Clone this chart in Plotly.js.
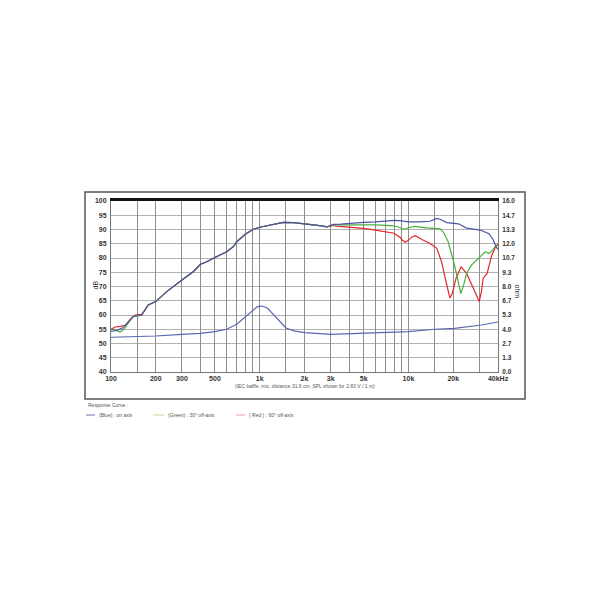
<!DOCTYPE html>
<html><head><meta charset="utf-8">
<script src="https://cdn.plot.ly/plotly-3.0.1.min.js"></script>
<style>html,body{margin:0;padding:0;background:#fff}#chart{width:610px;height:610px}</style>
</head><body><div id="chart"></div>
<script>
// ---- data ----
var freqBlue = [100,110,120,130,141,161,178,200,237,300,357,400,440,500,600,665,700,800,900,1000,1230,1440,1690,2000,2300,2616,2825,3120,3500,4000,5000,6000,7000,8000,8800,10000,11900,13900,15500,16300,18100,21700,24600,30400,34800,37000,39200,40000];
var splBlue  = [54.3,54.6,55.5,57.5,59.4,60.0,63.5,64.7,68.2,72.3,75.2,77.8,78.7,80.2,82.2,84.0,85.7,88.3,90.0,90.8,91.9,92.5,92.4,92.0,91.8,91.3,90.9,91.8,91.9,92.2,92.5,92.7,93.0,93.2,93.1,92.7,92.7,92.9,93.9,93.6,92.4,92.0,90.5,89.8,88.5,86.5,83.5,83.0];

var freqGreen = [100,105,110,115,122,130,141,161,178,200,237,300,357,400,440,500,600,665,700,800,900,1000,1230,1440,1690,2000,2300,2616,2825,3120,3500,4000,6000,8000,9000,9500,10000,11000,13200,16300,17200,18500,20400,21500,22500,23500,24600,26500,28900,30500,32900,34800,36500,38200,40000];
var splGreen  = [54.8,55.0,54.5,54.0,55.0,57.0,59.6,60.0,63.5,64.7,68.2,72.3,75.2,77.8,78.7,80.2,82.2,84.0,85.7,88.3,90.0,90.8,91.9,92.5,92.4,92.0,91.8,91.3,90.9,91.6,91.6,91.6,91.6,91.3,90.4,90.1,90.6,91.1,90.6,90.2,89.0,85.7,77.5,72.0,67.5,70.5,74.6,77.5,79.3,80.5,82.2,81.6,82.5,84.0,84.5];

var freqRed = [100,107,115,125,135,145,161,178,200,237,300,357,400,440,500,600,665,700,800,900,1000,1230,1440,1690,2000,2300,2616,2825,3120,3300,4000,5000,6000,7000,8000,8800,9000,9500,10000,10500,11100,12500,13900,15500,16700,18100,19000,19700,20900,22600,24600,27300,29900,31000,31800,33800,36100,38200,40000];
var splRed  = [55.0,55.8,56.0,56.4,58.5,60.0,60.2,63.5,64.7,68.2,72.3,75.2,77.8,78.7,80.2,82.2,84.0,85.7,88.3,90.0,90.8,91.9,92.5,92.4,92.0,91.8,91.3,90.9,91.4,91.2,90.9,90.4,89.8,89.3,88.7,87.2,86.5,85.5,86.2,87.3,87.8,86.3,85.2,83.4,78.7,70.5,66.0,67.5,72.9,76.9,74.6,69.4,64.7,68.5,72.9,74.6,80.5,83.5,85.0];

var freqImp = [100,200,300,400,500,600,700,800,900,960,1000,1050,1130,1270,1400,1500,1700,2000,3000,5000,10000,15000,20400,31000,40000];
var ohmImp  = [3.25,3.37,3.52,3.62,3.77,4.0,4.46,5.18,5.8,6.1,6.17,6.15,5.96,5.17,4.5,4.12,3.85,3.68,3.52,3.62,3.77,4.0,4.09,4.4,4.68];

var xLabelVals = [100,200,300,500,1000,2000,3000,5000,10000,20000,40000];
var xLabelText = ['100','200','300','500','1k','2k','3k','5k','10k','20k','40kHz'];
var xGridVals = [150,200,300,400,500,600,700,800,900,1000,1500,2000,3000,4000,5000,6000,7000,8000,9000,10000,15000,20000,30000,40000];
var ohmTickVals = [0,1.333,2.667,4,5.333,6.667,8,9.333,10.667,12,13.333,14.667,16];
var ohmTickText = ['0.0','1.3','2.7','4.0','5.3','6.7','8.0','9.3','10.7','12.0','13.3','14.7','16.0'];

var caption = '(IEC baffle, mic. distance 31.6 cm, SPL shown for 2.83 V / 1 m)';
var legendTitle = 'Response Curve :';
var legendNames = ['(Blue) : on axis','(Green) : 30° off-axis','( Red ) : 60° off-axis'];

// ---- chart ----
var FONT = 'Liberation Sans, Arial, sans-serif';
var traces = [
  {x: freqRed, y: splRed, mode:'lines', line:{color:'#e3272b', width:1.2}, xaxis:'x', yaxis:'y', hoverinfo:'skip'},
  {x: freqGreen, y: splGreen, mode:'lines', line:{color:'#4cae3e', width:1.2}, xaxis:'x', yaxis:'y', hoverinfo:'skip'},
  {x: freqBlue, y: splBlue, mode:'lines', line:{color:'#4a55a6', width:1.2}, xaxis:'x', yaxis:'y', hoverinfo:'skip'},
  {x: freqImp, y: ohmImp, mode:'lines', line:{color:'#5b66b2', width:1.2}, xaxis:'x2', yaxis:'y2', hoverinfo:'skip'}
];

function px(X){return (X-111)/387;}
function py(Y){return (372-Y)/171;}

var txt = {family: FONT, size: 5, color:'#555'};
var annotations = [
  {xref:'paper', yref:'paper', x:px(89), y:py(285), text:'dB', textangle:-90, showarrow:false, font:{family:FONT,size:7,color:'#333'}},
  {xref:'paper', yref:'paper', x:px(523), y:py(291), text:'ohm', textangle:90, showarrow:false, font:{family:FONT,size:7,color:'#333'}},
  {xref:'paper', yref:'paper', x:px(305), y:py(391), text:caption, showarrow:false, font:txt},
  {xref:'paper', yref:'paper', x:px(86), y:py(405), xanchor:'left', yanchor:'middle', text:legendTitle, showarrow:false, font:txt},
  {xref:'paper', yref:'paper', x:px(97), y:py(415), xanchor:'left', yanchor:'middle', text:legendNames[0], showarrow:false, font:txt},
  {xref:'paper', yref:'paper', x:px(166), y:py(415), xanchor:'left', yanchor:'middle', text:legendNames[1], showarrow:false, font:txt},
  {xref:'paper', yref:'paper', x:px(247), y:py(415), xanchor:'left', yanchor:'middle', text:legendNames[2], showarrow:false, font:txt}
];
var shapes = [
  {type:'rect', xref:'paper', yref:'paper', x0:px(85), x1:px(525), y0:py(399), y1:py(192), line:{color:'#555', width:1.5}},
  {type:'line', xref:'paper', yref:'paper', x0:px(86), x1:px(95), y0:py(415), y1:py(415), line:{color:'#6a74b4', width:1}},
  {type:'line', xref:'paper', yref:'paper', x0:px(153), x1:px(164), y0:py(415), y1:py(415), line:{color:'#cbd99a', width:1}},
  {type:'line', xref:'paper', yref:'paper', x0:px(236), x1:px(245), y0:py(415), y1:py(415), line:{color:'#eb9a9a', width:1}}
];

var tickFont = {family: FONT, size: 7, color:'#333', weight:'bold'};
var layout = {
  width:610, height:610, autosize:false,
  margin:{l:111, r:112, t:201, b:238, pad:0},
  paper_bgcolor:'#fff', plot_bgcolor:'#fff',
  showlegend:false,
  font:{family:FONT},
  xaxis:{type:'log', range:[2, Math.log10(40000)], tickmode:'array', tickvals:xLabelVals, ticktext:xLabelText,
         showgrid:false, zeroline:false, ticks:'', showline:true, linecolor:'#777', linewidth:1, tickfont:tickFont, fixedrange:true},
  xaxis2:{type:'log', range:[2, Math.log10(40000)], overlaying:'x', side:'top', anchor:'y', tickmode:'array', tickvals:xGridVals,
         showticklabels:false, ticks:'', showgrid:true, gridcolor:'#8e8e8e', gridwidth:1, zeroline:false,
         showline:true, linecolor:'#111', linewidth:3.5},
  yaxis:{range:[40,100], dtick:5, tick0:40, showgrid:true, gridcolor:'#b2b2b2', gridwidth:1, zeroline:false, ticks:'',
         showline:true, linecolor:'#777', linewidth:1, tickfont:tickFont, ticklabelstandoff:2},
  yaxis2:{range:[0,16], overlaying:'y', side:'right', anchor:'x2', tickmode:'array', tickvals:ohmTickVals, ticktext:ohmTickText,
         showgrid:false, zeroline:false, ticks:'', showline:true, linecolor:'#777', linewidth:1, tickfont:{family:FONT,size:6.5,color:'#333',weight:'bold'}, ticklabelstandoff:2},
  annotations: annotations,
  shapes: shapes
};
Plotly.newPlot('chart', traces, layout, {staticPlot:true, displayModeBar:false});
</script>
</body></html>
